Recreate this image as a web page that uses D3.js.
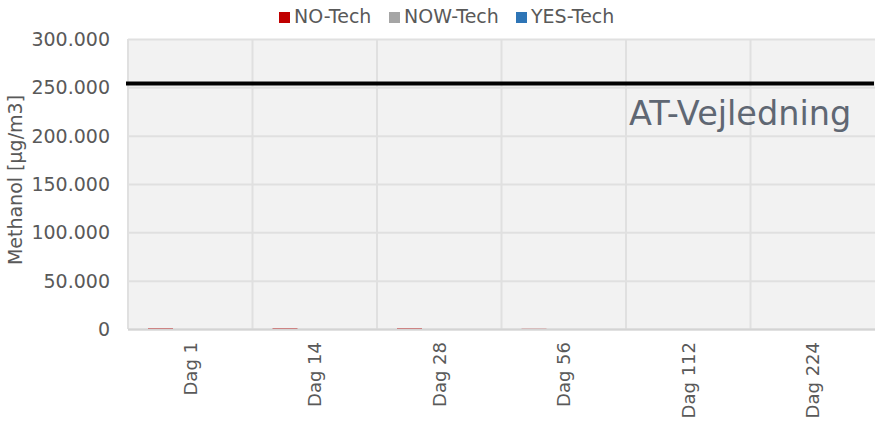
<!DOCTYPE html>
<html>
<head>
<meta charset="utf-8">
<script src="https://cdn.jsdelivr.net/npm/d3@7"></script>
<style>
body { margin: 0; background: #fff; }
text { font-family: "DejaVu Sans", Verdana, sans-serif; }
</style>
</head>
<body>
<div id="canvas"></div>
<script>
var categories = ["Dag 1", "Dag 14", "Dag 28", "Dag 56", "Dag 112", "Dag 224"];
var seriesNames = ["NO-Tech", "NOW-Tech", "YES-Tech"];
var noTech = [800, 800, 800, 300, 0, 0];
var nowTech = [0, 0, 0, 0, 0, 0];
var yesTech = [0, 0, 0, 0, 0, 0];
var atLimit = 254000;
var atLabel = "AT-Vejledning";
var yTicks = [0, 50000, 100000, 150000, 200000, 250000, 300000];
var yTitle = "Methanol [µg/m3]";

var colors = ["#c00000", "#a5a5a5", "#2e75b6"];
var width = 875, height = 422;
var plotLeft = 128, plotRight = 875, plotTop = 39, plotBottom = 329;

var svg = d3.select("#canvas")
	.append("svg")
	.attr("width", width)
	.attr("height", height);

var x = d3.scaleBand()
	.domain(categories)
	.range([plotLeft, plotRight]);

var inner = d3.scaleBand()
	.domain(seriesNames)
	.range([20, 95]);

var y = d3.scaleLinear()
	.domain([0, 300000])
	.range([plotBottom, plotTop]);

// plot background
svg.append("rect")
	.attr("x", plotLeft)
	.attr("y", plotTop)
	.attr("width", plotRight - plotLeft)
	.attr("height", plotBottom - plotTop)
	.attr("fill", "#f2f2f2");

// horizontal grid
svg.append("g")
	.selectAll("line")
	.data(yTicks)
	.enter()
	.append("line")
	.attr("x1", plotLeft)
	.attr("x2", plotRight)
	.attr("y1", function(d){ return y(d) + 0.5; })
	.attr("y2", function(d){ return y(d) + 0.5; })
	.attr("stroke", "#e0e0e0")
	.attr("stroke-width", 2);

// vertical grid at category boundaries
svg.append("g")
	.selectAll("line")
	.data(categories)
	.enter()
	.append("line")
	.attr("x1", function(d){ return x(d); })
	.attr("x2", function(d){ return x(d); })
	.attr("y1", plotTop)
	.attr("y2", plotBottom)
	.attr("stroke", "#e0e0e0")
	.attr("stroke-width", 2);

// bars
var seriesData = [noTech, nowTech, yesTech];
seriesData.forEach(function(vals, s) {
	svg.append("g")
		.selectAll("rect")
		.data(vals)
		.enter()
		.append("rect")
		.attr("x", function(d, i){ return x(categories[i]) + inner(seriesNames[s]); })
		.attr("y", function(d){ return y(d); })
		.attr("width", inner.bandwidth())
		.attr("height", function(d){ return plotBottom - y(d); })
		.attr("fill", colors[s]);
});

// bottom axis line
svg.append("line")
	.attr("x1", plotLeft)
	.attr("x2", plotRight)
	.attr("y1", plotBottom + 0.5)
	.attr("y2", plotBottom + 0.5)
	.attr("stroke", "#d4d4d4")
	.attr("stroke-width", 2);

// AT limit line
svg.append("line")
	.attr("x1", plotLeft - 2)
	.attr("x2", plotRight - 1)
	.attr("y1", y(atLimit))
	.attr("y2", y(atLimit))
	.attr("stroke", "#000")
	.attr("stroke-width", 4);

svg.append("text")
	.attr("x", 629)
	.attr("y", 125)
	.attr("font-size", 33.5)
	.attr("fill", "#5f6773")
	.text(atLabel);

// y tick labels
svg.append("g")
	.selectAll("text")
	.data(yTicks)
	.enter()
	.append("text")
	.attr("x", 110)
	.attr("y", function(d){ return y(d); })
	.attr("dy", "0.36em")
	.attr("text-anchor", "end")
	.attr("font-size", 19)
	.attr("fill", "#595959")
	.text(function(d){ return d === 0 ? "0" : d3.format(",.3f")(d / 1000).replace(",", "."); });

// x labels
svg.append("g")
	.selectAll("text")
	.data(categories)
	.enter()
	.append("text")
	.attr("transform", function(d){ return "translate(" + (x(d) + x.bandwidth() / 2) + ",342) rotate(-90)"; })
	.attr("dy", "0.35em")
	.attr("text-anchor", "end")
	.attr("font-size", 18)
	.attr("fill", "#595959")
	.text(function(d){ return d; });

// y title
svg.append("text")
	.attr("transform", "translate(15,180) rotate(-90)")
	.attr("dy", "0.35em")
	.attr("text-anchor", "middle")
	.attr("font-size", 19)
	.attr("fill", "#595959")
	.text(yTitle);

// legend
var legendX = [279, 389, 516];
var legend = svg.append("g")
	.selectAll("g")
	.data(seriesNames)
	.enter()
	.append("g")
	.attr("transform", function(d, i){ return "translate(" + legendX[i] + ",12)"; });

legend.append("rect")
	.attr("width", 11)
	.attr("height", 11)
	.attr("fill", function(d, i){ return colors[i]; });

legend.append("text")
	.attr("x", 15)
	.attr("y", 11)
	.attr("font-size", 19)
	.attr("fill", "#595959")
	.text(function(d){ return d; });
</script>
</body>
</html>
